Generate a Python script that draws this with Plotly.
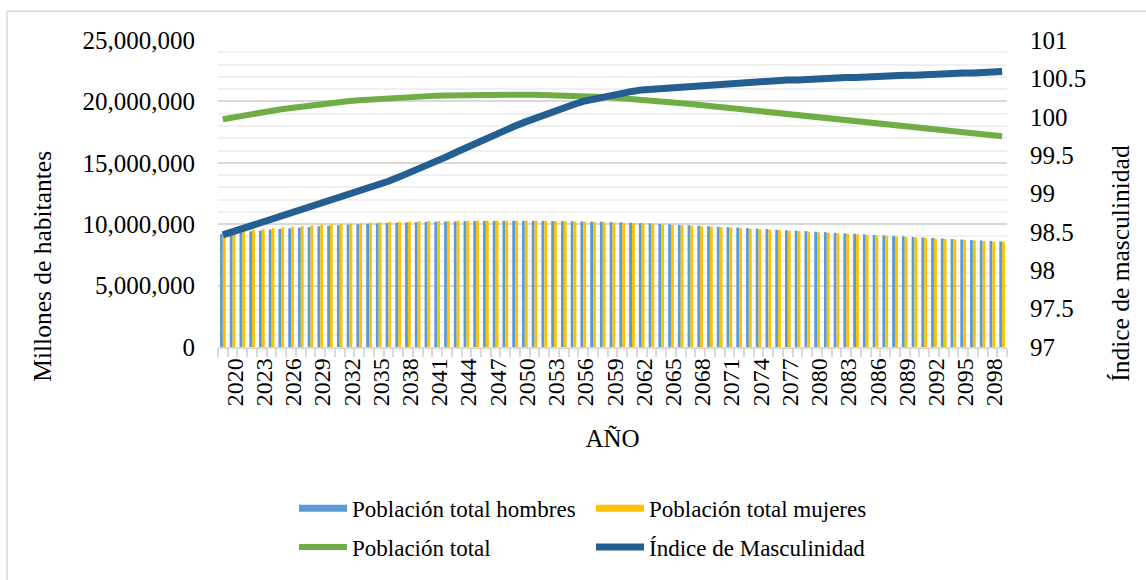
import plotly.graph_objects as go

years = list(range(2020, 2101))

# Población total (millones de habitantes)
total = [18.55, 18.70, 18.84, 18.98, 19.11, 19.24, 19.36, 19.47, 19.58, 19.68,
         19.78, 19.87, 19.95, 20.03, 20.10, 20.16, 20.22, 20.27, 20.32, 20.37,
         20.41, 20.44, 20.47, 20.49, 20.51, 20.53, 20.54, 20.55, 20.56, 20.56,
         20.56, 20.55, 20.54, 20.53, 20.51, 20.49, 20.46, 20.43, 20.40, 20.36,
         20.31, 20.26, 20.20, 20.14, 20.08, 20.01, 19.94, 19.86, 19.79, 19.71,
         19.63, 19.55, 19.47, 19.39, 19.31, 19.23, 19.15, 19.06, 18.98, 18.90,
         18.81, 18.73, 18.65, 18.56, 18.48, 18.39, 18.31, 18.22, 18.14, 18.05,
         17.97, 17.88, 17.80, 17.72, 17.63, 17.55, 17.47, 17.39, 17.31, 17.23,
         17.16]

hombres = [9.20, 9.28, 9.35, 9.42, 9.49, 9.56, 9.62, 9.67, 9.73, 9.78,
           9.83, 9.88, 9.92, 9.97, 10.00, 10.03, 10.07, 10.09, 10.12, 10.15,
           10.17, 10.19, 10.21, 10.22, 10.23, 10.25, 10.26, 10.26, 10.27, 10.27,
           10.28, 10.27, 10.27, 10.27, 10.26, 10.25, 10.24, 10.23, 10.21, 10.20,
           10.17, 10.15, 10.12, 10.09, 10.06, 10.03, 9.99, 9.95, 9.92, 9.88,
           9.84, 9.80, 9.76, 9.72, 9.68, 9.64, 9.60, 9.55, 9.51, 9.47,
           9.43, 9.39, 9.35, 9.30, 9.26, 9.22, 9.18, 9.13, 9.09, 9.05,
           9.01, 8.96, 8.92, 8.88, 8.84, 8.80, 8.76, 8.72, 8.68, 8.64,
           8.61]

mujeres = [9.35, 9.42, 9.49, 9.56, 9.62, 9.68, 9.74, 9.80, 9.85, 9.90,
           9.95, 9.99, 10.03, 10.07, 10.10, 10.13, 10.15, 10.18, 10.20, 10.22,
           10.24, 10.25, 10.26, 10.27, 10.28, 10.28, 10.29, 10.29, 10.29, 10.29,
           10.28, 10.28, 10.27, 10.26, 10.25, 10.24, 10.22, 10.20, 10.19, 10.17,
           10.14, 10.11, 10.08, 10.05, 10.02, 9.99, 9.95, 9.91, 9.87, 9.83,
           9.79, 9.75, 9.71, 9.67, 9.63, 9.59, 9.55, 9.51, 9.47, 9.43,
           9.38, 9.34, 9.30, 9.26, 9.22, 9.17, 9.13, 9.09, 9.05, 9.00,
           8.96, 8.92, 8.88, 8.84, 8.79, 8.75, 8.71, 8.67, 8.63, 8.59,
           8.55]

indice = [98.46, 98.50, 98.55, 98.59, 98.63, 98.67, 98.71, 98.75, 98.79, 98.83,
          98.86, 98.90, 98.94, 98.98, 99.02, 99.07, 99.11, 99.16, 99.21, 99.26,
          99.31, 99.36, 99.42, 99.48, 99.54, 99.60, 99.66, 99.72, 99.78, 99.83,
          99.88, 99.93, 99.98, 100.03, 100.08, 100.12, 100.16, 100.20, 100.23, 100.26,
          100.29, 100.31, 100.33, 100.35, 100.36, 100.37, 100.38, 100.39, 100.40, 100.41,
          100.42, 100.43, 100.44, 100.45, 100.45, 100.46, 100.47, 100.47, 100.48, 100.48,
          100.49, 100.49, 100.50, 100.50, 100.51, 100.51, 100.52, 100.52, 100.53, 100.53,
          100.54, 100.54, 100.55, 100.55, 100.56, 100.56, 100.57, 100.57, 100.58, 100.58,
          100.59]

tick_years = list(range(2020, 2099, 3))
left_ticks = [0, 5000000, 10000000, 15000000, 20000000, 25000000]
right_ticks = [97, 97.5, 98, 98.5, 99, 99.5, 100, 100.5, 101]

M = 1_000_000
C_H, C_M, C_T, C_I = "#5B9BD5", "#FFC000", "#70AD47", "#255E91"
FONT = "Liberation Serif"

W, H = 1146, 580
ML, MR, MT, MB = 218, 139, 40, 230
PW, PH = W - ML - MR, H - MT - MB


def px2paper_x(px):
    return (px - ML) / PW


def px2paper_y(py):
    return 1 - (py - MT) / PH


fig = go.Figure()
fig.add_trace(go.Bar(x=years, y=[v * M for v in hombres], marker_color=C_H,
                     marker_line_width=0, showlegend=False, name="Población total hombres"))
fig.add_trace(go.Bar(x=years, y=[v * M for v in mujeres], marker_color=C_M,
                     marker_line_width=0, showlegend=False, name="Población total mujeres"))
# legend entries (wide swatches like the original)
fig.add_trace(go.Scatter(x=[None], y=[None], mode="lines", line=dict(color=C_H, width=7),
                         name="Población total hombres", legend="legend"))
fig.add_trace(go.Scatter(x=[None], y=[None], mode="lines", line=dict(color=C_M, width=7),
                         name="Población total mujeres", legend="legend"))
fig.add_trace(go.Scatter(x=years, y=[v * M for v in total], mode="lines",
                         line=dict(color=C_T, width=6),
                         name="Población total", legend="legend2"))
fig.add_trace(go.Scatter(x=years, y=indice, mode="lines", yaxis="y2",
                         line=dict(color=C_I, width=7),
                         name="Índice de Masculinidad", legend="legend2"))

legend_common = dict(
    orientation="h", xanchor="left", yanchor="middle",
    x=px2paper_x(294),
    font=dict(size=23), entrywidth=234, entrywidthmode="pixels",
    itemwidth=48, traceorder="normal", bgcolor="rgba(0,0,0,0)",
)

fig.update_layout(
    width=W, height=H,
    margin=dict(l=ML, r=MR, t=MT, b=MB),
    paper_bgcolor="white", plot_bgcolor="white",
    font=dict(family=FONT, size=24, color="#000000"),
    barmode="group", bargap=0.42, bargroupgap=0,
    xaxis=dict(
        range=[2019.5, 2100.5],
        tickmode="array", tickvals=tick_years, ticktext=[str(y) for y in tick_years],
        tickangle=-90, ticks="", showgrid=False, ticklabelshift=12,
        showline=True, linecolor="#D9D9D9", linewidth=1.5,
        tickfont=dict(size=24),
        minor=dict(tickmode="linear", tick0=2019.5, dtick=1, ticks="outside",
                   ticklen=8, tickcolor="#D9D9D9", tickwidth=1.5, showgrid=False),
        title=dict(text="AÑO", font=dict(size=25), standoff=24),
    ),
    yaxis=dict(
        range=[0, 25 * M], tickmode="array", tickvals=left_ticks,
        ticktext=[f"{v:,}" for v in left_ticks],
        showgrid=True, gridcolor="#D9D9D9", gridwidth=1.5,
        minor=dict(dtick=M, showgrid=True, gridcolor="#F0F0F0", gridwidth=1.5),
        zeroline=False, ticks="", ticklabelstandoff=22,
        tickfont=dict(size=25),
    ),
    yaxis2=dict(
        range=[97, 101], overlaying="y", side="right",
        tickmode="array", tickvals=right_ticks, ticktext=[f"{v:g}" for v in right_ticks],
        showgrid=False, zeroline=False, ticks="", ticklabelstandoff=22,
        tickfont=dict(size=25),
    ),
    legend=dict(legend_common, y=px2paper_y(513)),
    legend2=dict(legend_common, y=px2paper_y(552)),
    annotations=[
        dict(text="Millones de habitantes", xref="paper", yref="paper",
             x=px2paper_x(43), y=px2paper_y(269), textangle=-90, showarrow=False,
             xanchor="center", yanchor="middle", font=dict(size=25.5)),
        dict(text="Índice de masculinidad", xref="paper", yref="paper",
             x=px2paper_x(1121), y=px2paper_y(266), textangle=-90, showarrow=False,
             xanchor="center", yanchor="middle", font=dict(size=25.5)),
    ],
    shapes=[
        dict(type="line", xref="paper", yref="paper",
             x0=px2paper_x(7), x1=px2paper_x(1150), y0=px2paper_y(11), y1=px2paper_y(11),
             line=dict(color="#D9D9D9", width=1.5)),
        dict(type="line", xref="paper", yref="paper",
             x0=px2paper_x(7), x1=px2paper_x(7), y0=px2paper_y(11), y1=px2paper_y(590),
             line=dict(color="#D9D9D9", width=1.5)),
    ],
)

fig.write_html("out.html", config={"displayModeBar": False},
               post_script="document.body.style.margin='0';")
